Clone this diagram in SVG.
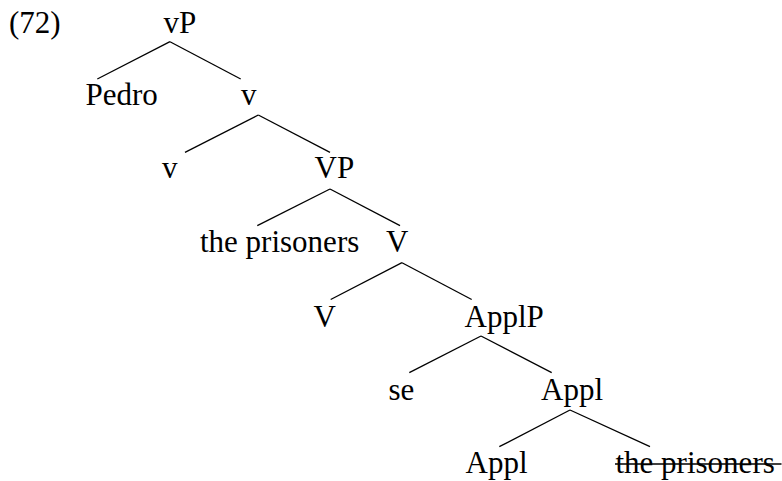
<svg xmlns="http://www.w3.org/2000/svg" width="782" height="481" viewBox="0 0 782 481">
<style>
text { font-family: "Liberation Serif", "Times New Roman", serif; font-size: 31px; fill: #000; }
.edge { stroke: #000; stroke-width: 1.3; fill: none; }
</style>
<rect width="782" height="481" fill="#fff"/>
<text id="label" x="9" y="33">(72)</text>
<g id="connectors">
  <line class="edge" x1="170" y1="41.7" x2="97.3" y2="79"/>
  <line class="edge" x1="170" y1="41.7" x2="240.7" y2="79"/>
  <line class="edge" x1="258.3" y1="115" x2="185" y2="152.3"/>
  <line class="edge" x1="258.3" y1="115" x2="330" y2="152.3"/>
  <line class="edge" x1="330" y1="189" x2="257.3" y2="225.7"/>
  <line class="edge" x1="330" y1="189" x2="400" y2="225.7"/>
  <line class="edge" x1="402" y1="262.7" x2="330.7" y2="299.5"/>
  <line class="edge" x1="402" y1="262.7" x2="471.7" y2="299.5"/>
  <line class="edge" x1="481" y1="336" x2="409.3" y2="372.7"/>
  <line class="edge" x1="481" y1="336" x2="551.7" y2="372.7"/>
  <line class="edge" x1="570" y1="410" x2="499.3" y2="446.7"/>
  <line class="edge" x1="570" y1="410" x2="650" y2="446.7"/>
</g>
<g id="n-vP"><text x="163.5" y="33">vP</text></g>
<g id="n-Pedro"><text x="85.5" y="105">Pedro</text></g>
<g id="n-v1"><text x="241" y="105">v</text></g>
<g id="n-v2"><text x="162" y="178.3">v</text></g>
<g id="n-VP"><text x="314.5" y="178.3">VP</text></g>
<g id="n-theprisoners"><text x="200" y="251.7">the prisoners</text></g>
<g id="n-V1"><text x="386" y="251.7">V</text></g>
<g id="n-V2"><text x="313.5" y="326.7">V</text></g>
<g id="n-ApplP"><text x="464.5" y="326.7">ApplP</text></g>
<g id="n-se"><text x="388.5" y="400">se</text></g>
<g id="n-Appl1"><text x="541" y="400">Appl</text></g>
<g id="n-Appl2"><text x="465.5" y="473.3">Appl</text></g>
<g id="n-theprisoners2"><text x="615.5" y="473.3">the prisoners</text><line x1="615" y1="464" x2="781.5" y2="464" stroke="#000" stroke-width="1.7"/></g>
</svg>
